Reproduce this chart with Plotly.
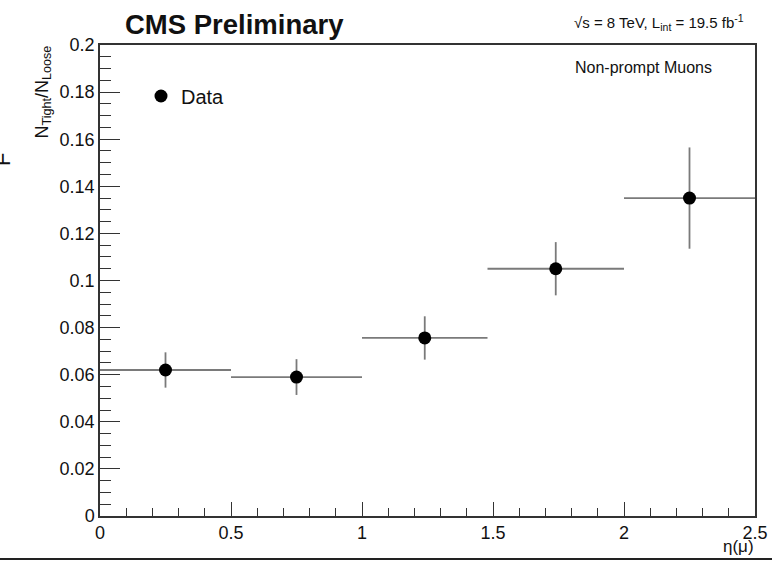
import plotly.graph_objects as go

# Muon fake rate (tight / loose) in bins of |eta|
eta_low = [0.0, 0.5, 1.0, 1.479, 2.0]
eta_high = [0.5, 1.0, 1.479, 2.0, 2.5]
fake_rate = [0.062, 0.059, 0.0756, 0.105, 0.135]
fake_rate_err = [0.0075, 0.0076, 0.0092, 0.0113, 0.0215]

y_tick_vals = [0, 0.02, 0.04, 0.06, 0.08, 0.1, 0.12, 0.14, 0.16, 0.18, 0.2]
y_tick_text = ["0", "0.02", "0.04", "0.06", "0.08", "0.1", "0.12", "0.14", "0.16", "0.18", "0.2"]
x_tick_vals = [0, 0.5, 1, 1.5, 2, 2.5]
x_tick_text = ["0", "0.5", "1", "1.5", "2", "2.5"]

eta_center = [(lo + hi) / 2 for lo, hi in zip(eta_low, eta_high)]
half_width = [(hi - lo) / 2 for lo, hi in zip(eta_low, eta_high)]

FONT = "Liberation Sans, Arial, Helvetica, sans-serif"
W, H = 772, 561
L, R, T, B = 100, 17, 45, 45
PW, PH = W - L - R, H - T - B


def px_x(p):
    return (p - L) / PW


def px_y(p):
    return (H - B - p) / PH


fig = go.Figure()
fig.add_trace(go.Scatter(
    x=eta_center, y=fake_rate, mode="markers", name="Data",
    marker=dict(color="black", size=13, symbol="circle"),
    error_x=dict(type="data", array=half_width, symmetric=True,
                 color="#7a7a7a", thickness=1.8, width=0),
    error_y=dict(type="data", array=fake_rate_err, symmetric=True,
                 color="#7a7a7a", thickness=1.8, width=0),
))

axis_common = dict(
    showline=True, linecolor="#333333", linewidth=1.5, mirror=True,
    ticks="inside", tickcolor="#333333", tickwidth=1.2,
    showgrid=False, zeroline=False, automargin=False,
    tickfont=dict(family=FONT, size=18, color="#111111"),
)

fig.update_xaxes(
    range=[0, 2.5], tickvals=x_tick_vals, ticktext=x_tick_text,
    ticklen=14,
    minor=dict(ticks="inside", dtick=0.1, ticklen=8, tickcolor="#333333", tickwidth=1.2),
    **axis_common,
)
fig.update_yaxes(
    range=[0, 0.2], tickvals=y_tick_vals, ticktext=y_tick_text,
    ticklen=20,
    minor=dict(ticks="inside", dtick=0.005, ticklen=11, tickcolor="#333333", tickwidth=1.2),
    **axis_common,
)

annotations = [
    dict(text="<b>CMS Preliminary</b>", x=px_x(234), y=px_y(24),
         xanchor="center", yanchor="middle", showarrow=False,
         font=dict(family=FONT, size=27.5, color="#111111")),
    dict(text="\u221as = 8 TeV, L<sub>int</sub> = 19.5 fb<sup>-1</sup>",
         x=px_x(746), y=px_y(22), xanchor="right", yanchor="middle",
         showarrow=False, font=dict(family=FONT, size=15, color="#111111")),
    dict(text="Non-prompt Muons", x=px_x(643), y=px_y(67),
         xanchor="center", yanchor="middle", showarrow=False,
         font=dict(family=FONT, size=16, color="#111111")),
    dict(text="N<sub>Tight</sub>/N<sub>Loose</sub>", x=px_x(43), y=px_y(44),
         xanchor="center", yanchor="top", textangle=-90, showarrow=False,
         font=dict(family=FONT, size=18, color="#111111")),
    dict(text="F", x=px_x(3), y=px_y(160),
         xanchor="center", yanchor="middle", textangle=-90, showarrow=False,
         font=dict(family=FONT, size=22, color="#111111")),
    dict(text="\u03b7(\u03bc)", x=px_x(756), y=px_y(546),
         xanchor="right", yanchor="middle", showarrow=False,
         font=dict(family=FONT, size=17, color="#111111")),
]
for a in annotations:
    a.update(xref="paper", yref="paper")

fig.add_shape(type="line", xref="paper", yref="paper",
              x0=px_x(0), x1=px_x(W), y0=px_y(559), y1=px_y(559),
              line=dict(color="#222222", width=2))

fig.update_layout(
    width=W, height=H,
    margin=dict(l=L, r=R, t=T, b=B, autoexpand=False),
    paper_bgcolor="white", plot_bgcolor="white",
    font=dict(family=FONT, color="#111111"),
    annotations=annotations,
    showlegend=True,
    legend=dict(x=px_x(141), y=px_y(96), xanchor="left", yanchor="middle",
                bgcolor="rgba(0,0,0,0)", borderwidth=0,
                font=dict(family=FONT, size=20, color="#111111")),
)

fig.write_html("out.html")
